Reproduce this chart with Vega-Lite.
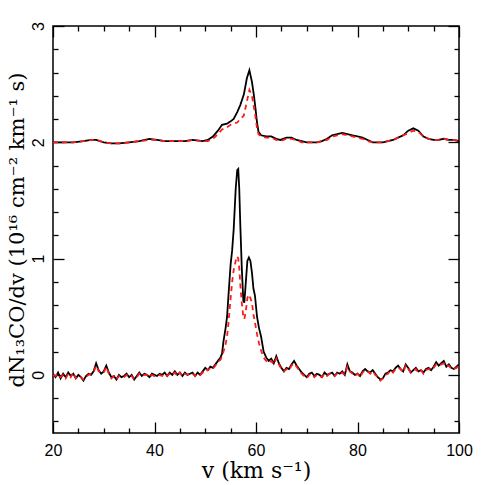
{
  "$schema": "https://vega.github.io/schema/vega-lite/v6.json",
  "width": 406,
  "height": 407,
  "autosize": {"type": "none"},
  "padding": {"left": 53, "top": 26, "right": 26, "bottom": 52},
  "background": "white",
  "config": {
    "view": {"stroke": "black", "strokeWidth": 1.5},
    "axis": {"domain": false, "grid": false, "tickColor": "black", "tickWidth": 1.3, "labelColor": "black", "titleColor": "black", "labelFont": "Liberation Sans", "titleFont": "DejaVu Serif", "titleFontWeight": "normal"}
  },
  "datasets": {
    "spec": [
      {"v":20,"g":"lo","obs":0.01,"mod":0.00},{"v":20.5,"g":"lo","obs":-0.02,"mod":-0.01},{"v":21,"g":"lo","obs":0.02,"mod":0.01},{"v":21.5,"g":"lo","obs":-0.03,"mod":-0.02},{"v":22,"g":"lo","obs":0.01,"mod":0.00},{"v":22.5,"g":"lo","obs":-0.02,"mod":-0.03},{"v":23,"g":"lo","obs":0.02,"mod":0.01},{"v":23.5,"g":"lo","obs":-0.01,"mod":-0.02},{"v":24,"g":"lo","obs":0.01,"mod":0.02},{"v":24.5,"g":"lo","obs":-0.03,"mod":-0.03},
      {"v":25,"g":"lo","obs":0.00,"mod":-0.01},{"v":25.5,"g":"lo","obs":-0.02,"mod":-0.02},{"v":26,"g":"lo","obs":-0.05,"mod":-0.04},{"v":26.5,"g":"lo","obs":-0.01,"mod":-0.02},{"v":27,"g":"lo","obs":0.01,"mod":0.00},{"v":27.5,"g":"lo","obs":0.00,"mod":0.01},{"v":28,"g":"lo","obs":0.03,"mod":0.02},{"v":28.5,"g":"lo","obs":0.10,"mod":0.08},{"v":29,"g":"lo","obs":0.04,"mod":0.03},{"v":29.5,"g":"lo","obs":0.01,"mod":0.02},
      {"v":30,"g":"lo","obs":0.03,"mod":0.02},{"v":30.5,"g":"lo","obs":0.08,"mod":0.07},{"v":31,"g":"lo","obs":0.02,"mod":0.01},{"v":31.5,"g":"lo","obs":-0.02,"mod":-0.03},{"v":32,"g":"lo","obs":-0.01,"mod":-0.01},{"v":32.5,"g":"lo","obs":-0.04,"mod":-0.04},{"v":33,"g":"lo","obs":0.00,"mod":-0.01},{"v":33.5,"g":"lo","obs":-0.02,"mod":-0.02},{"v":34,"g":"lo","obs":-0.01,"mod":-0.02},{"v":34.5,"g":"lo","obs":0.01,"mod":0.00},
      {"v":35,"g":"lo","obs":-0.02,"mod":-0.02},{"v":35.5,"g":"lo","obs":0.00,"mod":-0.01},{"v":36,"g":"lo","obs":-0.04,"mod":-0.04},{"v":36.5,"g":"lo","obs":-0.01,"mod":-0.02},{"v":37,"g":"lo","obs":0.02,"mod":0.01},{"v":37.5,"g":"lo","obs":-0.01,"mod":-0.01},{"v":38,"g":"lo","obs":0.01,"mod":0.00},{"v":38.5,"g":"lo","obs":0.00,"mod":0.00},{"v":39,"g":"lo","obs":-0.02,"mod":-0.02},{"v":39.5,"g":"lo","obs":0.01,"mod":0.00},
      {"v":40,"g":"lo","obs":0.00,"mod":-0.01},{"v":40.5,"g":"lo","obs":-0.01,"mod":-0.01},{"v":41,"g":"lo","obs":0.01,"mod":0.00},{"v":41.5,"g":"lo","obs":0.00,"mod":-0.01},{"v":42,"g":"lo","obs":0.02,"mod":0.01},{"v":42.5,"g":"lo","obs":-0.01,"mod":-0.01},{"v":43,"g":"lo","obs":0.02,"mod":0.01},{"v":43.5,"g":"lo","obs":0.00,"mod":0.00},{"v":44,"g":"lo","obs":0.03,"mod":0.02},{"v":44.5,"g":"lo","obs":0.00,"mod":-0.01},
      {"v":45,"g":"lo","obs":0.02,"mod":0.02},{"v":45.5,"g":"lo","obs":-0.01,"mod":-0.01},{"v":46,"g":"lo","obs":0.02,"mod":0.01},{"v":46.5,"g":"lo","obs":0.00,"mod":0.00},{"v":47,"g":"lo","obs":0.01,"mod":0.01},{"v":47.5,"g":"lo","obs":0.02,"mod":0.01},{"v":48,"g":"lo","obs":-0.01,"mod":-0.01},{"v":48.5,"g":"lo","obs":0.02,"mod":0.01},{"v":49,"g":"lo","obs":0.00,"mod":0.00},{"v":49.5,"g":"lo","obs":0.03,"mod":0.02},
      {"v":50,"g":"lo","obs":0.06,"mod":0.05},{"v":50.5,"g":"lo","obs":0.04,"mod":0.04},{"v":51,"g":"lo","obs":0.07,"mod":0.06},{"v":51.5,"g":"lo","obs":0.06,"mod":0.05},{"v":52,"g":"lo","obs":0.09,"mod":0.08},{"v":52.5,"g":"lo","obs":0.12,"mod":0.11},{"v":53,"g":"lo","obs":0.15,"mod":0.13},{"v":53.3,"g":"lo","obs":0.18,"mod":0.16},{"v":53.6,"g":"lo","obs":0.29,"mod":0.20},{"v":54,"g":"lo","obs":0.40,"mod":0.26},
      {"v":54.3,"g":"lo","obs":0.50,"mod":0.33},{"v":54.6,"g":"lo","obs":0.70,"mod":0.46},{"v":55,"g":"lo","obs":0.95,"mod":0.66},{"v":55.3,"g":"lo","obs":1.07,"mod":0.80},{"v":55.6,"g":"lo","obs":1.25,"mod":0.90},{"v":56,"g":"lo","obs":1.60,"mod":0.98},{"v":56.3,"g":"lo","obs":1.76,"mod":1.02},{"v":56.5,"g":"lo","obs":1.77,"mod":1.00},{"v":56.7,"g":"lo","obs":1.60,"mod":0.92},{"v":56.9,"g":"lo","obs":1.30,"mod":0.78},
      {"v":57.2,"g":"lo","obs":0.92,"mod":0.62},{"v":57.5,"g":"lo","obs":0.64,"mod":0.50},{"v":57.7,"g":"lo","obs":0.62,"mod":0.48},{"v":58,"g":"lo","obs":0.80,"mod":0.55},{"v":58.3,"g":"lo","obs":0.98,"mod":0.66},{"v":58.6,"g":"lo","obs":1.01,"mod":0.69},{"v":58.9,"g":"lo","obs":0.98,"mod":0.66},{"v":59.2,"g":"lo","obs":0.88,"mod":0.62},{"v":59.5,"g":"lo","obs":0.74,"mod":0.52},{"v":59.8,"g":"lo","obs":0.68,"mod":0.45},
      {"v":60.2,"g":"lo","obs":0.50,"mod":0.35},{"v":60.6,"g":"lo","obs":0.40,"mod":0.27},{"v":61,"g":"lo","obs":0.33,"mod":0.21},{"v":61.5,"g":"lo","obs":0.20,"mod":0.15},{"v":62,"g":"lo","obs":0.15,"mod":0.12},{"v":62.5,"g":"lo","obs":0.12,"mod":0.10},{"v":63,"g":"lo","obs":0.14,"mod":0.12},{"v":63.5,"g":"lo","obs":0.10,"mod":0.09},{"v":64,"g":"lo","obs":0.16,"mod":0.14},{"v":64.5,"g":"lo","obs":0.10,"mod":0.09},
      {"v":65,"g":"lo","obs":0.06,"mod":0.05},{"v":65.5,"g":"lo","obs":0.03,"mod":0.03},{"v":66,"g":"lo","obs":0.06,"mod":0.05},{"v":66.5,"g":"lo","obs":0.05,"mod":0.04},{"v":67,"g":"lo","obs":0.09,"mod":0.08},{"v":67.5,"g":"lo","obs":0.12,"mod":0.10},{"v":68,"g":"lo","obs":0.08,"mod":0.07},{"v":68.5,"g":"lo","obs":0.05,"mod":0.04},{"v":69,"g":"lo","obs":0.02,"mod":0.01},{"v":69.5,"g":"lo","obs":0.00,"mod":-0.01},
      {"v":70,"g":"lo","obs":-0.02,"mod":-0.03},{"v":70.5,"g":"lo","obs":0.01,"mod":0.00},{"v":71,"g":"lo","obs":0.02,"mod":0.01},{"v":71.5,"g":"lo","obs":-0.01,"mod":-0.02},{"v":72,"g":"lo","obs":0.01,"mod":0.00},{"v":72.5,"g":"lo","obs":0.00,"mod":-0.01},{"v":73,"g":"lo","obs":-0.02,"mod":-0.02},{"v":73.5,"g":"lo","obs":0.02,"mod":0.01},{"v":74,"g":"lo","obs":0.00,"mod":-0.01},{"v":74.5,"g":"lo","obs":0.01,"mod":0.01},
      {"v":75,"g":"lo","obs":0.02,"mod":0.01},{"v":75.5,"g":"lo","obs":-0.01,"mod":-0.01},{"v":76,"g":"lo","obs":0.02,"mod":0.01},{"v":76.5,"g":"lo","obs":0.01,"mod":0.00},{"v":77,"g":"lo","obs":0.03,"mod":0.02},{"v":77.5,"g":"lo","obs":0.00,"mod":0.00},{"v":78,"g":"lo","obs":0.09,"mod":0.07},{"v":78.5,"g":"lo","obs":0.03,"mod":0.03},{"v":79,"g":"lo","obs":0.02,"mod":0.01},{"v":79.5,"g":"lo","obs":0.00,"mod":-0.01},
      {"v":80,"g":"lo","obs":0.01,"mod":0.01},{"v":80.5,"g":"lo","obs":-0.01,"mod":-0.02},{"v":81,"g":"lo","obs":0.03,"mod":0.02},{"v":81.5,"g":"lo","obs":0.05,"mod":0.04},{"v":82,"g":"lo","obs":0.03,"mod":0.03},{"v":82.5,"g":"lo","obs":0.02,"mod":0.01},{"v":83,"g":"lo","obs":0.04,"mod":0.03},{"v":83.5,"g":"lo","obs":0.01,"mod":0.00},{"v":84,"g":"lo","obs":-0.02,"mod":-0.02},{"v":84.5,"g":"lo","obs":-0.04,"mod":-0.05},
      {"v":85,"g":"lo","obs":-0.03,"mod":-0.03},{"v":85.5,"g":"lo","obs":0.01,"mod":0.00},{"v":86,"g":"lo","obs":0.02,"mod":0.01},{"v":86.5,"g":"lo","obs":0.04,"mod":0.04},{"v":87,"g":"lo","obs":0.03,"mod":0.02},{"v":87.5,"g":"lo","obs":0.06,"mod":0.05},{"v":88,"g":"lo","obs":0.08,"mod":0.06},{"v":88.5,"g":"lo","obs":0.05,"mod":0.05},{"v":89,"g":"lo","obs":0.03,"mod":0.02},{"v":89.5,"g":"lo","obs":0.09,"mod":0.08},
      {"v":90,"g":"lo","obs":0.06,"mod":0.05},{"v":90.5,"g":"lo","obs":0.02,"mod":0.02},{"v":91,"g":"lo","obs":0.04,"mod":0.03},{"v":91.5,"g":"lo","obs":0.06,"mod":0.05},{"v":92,"g":"lo","obs":0.03,"mod":0.02},{"v":92.5,"g":"lo","obs":0.04,"mod":0.04},{"v":93,"g":"lo","obs":0.02,"mod":0.01},{"v":93.5,"g":"lo","obs":0.05,"mod":0.04},{"v":94,"g":"lo","obs":0.06,"mod":0.05},{"v":94.5,"g":"lo","obs":0.04,"mod":0.04},
      {"v":95,"g":"lo","obs":0.07,"mod":0.06},{"v":95.5,"g":"lo","obs":0.11,"mod":0.09},{"v":96,"g":"lo","obs":0.08,"mod":0.08},{"v":96.5,"g":"lo","obs":0.10,"mod":0.09},{"v":97,"g":"lo","obs":0.12,"mod":0.10},{"v":97.5,"g":"lo","obs":0.07,"mod":0.07},{"v":98,"g":"lo","obs":0.09,"mod":0.08},{"v":98.5,"g":"lo","obs":0.06,"mod":0.05},{"v":99,"g":"lo","obs":0.05,"mod":0.05},{"v":99.5,"g":"lo","obs":0.07,"mod":0.06},{"v":100,"g":"lo","obs":0.09,"mod":0.08},
      {"v":20,"g":"up","obs":2.00,"mod":2.00},{"v":22,"g":"up","obs":2.00,"mod":2.00},{"v":24,"g":"up","obs":2.00,"mod":2.00},{"v":26,"g":"up","obs":2.01,"mod":2.01},{"v":27.5,"g":"up","obs":2.02,"mod":2.02},{"v":28.5,"g":"up","obs":2.02,"mod":2.02},{"v":30,"g":"up","obs":2.00,"mod":2.00},{"v":31.5,"g":"up","obs":1.99,"mod":1.99},{"v":33,"g":"up","obs":1.99,"mod":1.99},{"v":35,"g":"up","obs":2.00,"mod":2.00},
      {"v":37,"g":"up","obs":2.01,"mod":2.01},{"v":39,"g":"up","obs":2.03,"mod":2.02},{"v":40.5,"g":"up","obs":2.02,"mod":2.02},{"v":42,"g":"up","obs":2.01,"mod":2.01},{"v":44,"g":"up","obs":2.01,"mod":2.01},{"v":46,"g":"up","obs":2.01,"mod":2.01},{"v":47.5,"g":"up","obs":2.02,"mod":2.02},{"v":49.5,"g":"up","obs":2.01,"mod":2.01},{"v":50.5,"g":"up","obs":2.02,"mod":2.01},{"v":51.5,"g":"up","obs":2.05,"mod":2.03},
      {"v":52.5,"g":"up","obs":2.10,"mod":2.07},{"v":53.3,"g":"up","obs":2.15,"mod":2.11},{"v":54.3,"g":"up","obs":2.16,"mod":2.13},{"v":55,"g":"up","obs":2.18,"mod":2.15},{"v":55.6,"g":"up","obs":2.20,"mod":2.16},{"v":56.3,"g":"up","obs":2.26,"mod":2.17},{"v":56.9,"g":"up","obs":2.32,"mod":2.20},{"v":57.6,"g":"up","obs":2.41,"mod":2.23},{"v":58.2,"g":"up","obs":2.55,"mod":2.35},{"v":58.7,"g":"up","obs":2.62,"mod":2.45},
      {"v":59.2,"g":"up","obs":2.52,"mod":2.40},{"v":59.6,"g":"up","obs":2.40,"mod":2.30},{"v":59.9,"g":"up","obs":2.29,"mod":2.22},{"v":60.2,"g":"up","obs":2.17,"mod":2.12},{"v":60.5,"g":"up","obs":2.09,"mod":2.07},{"v":61,"g":"up","obs":2.06,"mod":2.05},{"v":62,"g":"up","obs":2.05,"mod":2.04},{"v":63,"g":"up","obs":2.05,"mod":2.04},{"v":64,"g":"up","obs":2.03,"mod":2.02},{"v":64.8,"g":"up","obs":2.02,"mod":2.01},
      {"v":66,"g":"up","obs":2.04,"mod":2.03},{"v":67,"g":"up","obs":2.04,"mod":2.03},{"v":68,"g":"up","obs":2.02,"mod":2.02},{"v":69,"g":"up","obs":2.01,"mod":2.00},{"v":70,"g":"up","obs":2.00,"mod":2.00},{"v":71,"g":"up","obs":2.00,"mod":2.00},{"v":72,"g":"up","obs":2.00,"mod":2.00},{"v":73,"g":"up","obs":2.01,"mod":2.01},{"v":74,"g":"up","obs":2.03,"mod":2.02},{"v":75,"g":"up","obs":2.06,"mod":2.05},
      {"v":76,"g":"up","obs":2.07,"mod":2.06},{"v":77,"g":"up","obs":2.08,"mod":2.07},{"v":78,"g":"up","obs":2.07,"mod":2.06},{"v":79,"g":"up","obs":2.06,"mod":2.05},{"v":80,"g":"up","obs":2.05,"mod":2.04},{"v":81,"g":"up","obs":2.04,"mod":2.03},{"v":82,"g":"up","obs":2.02,"mod":2.01},{"v":83,"g":"up","obs":2.00,"mod":2.00},{"v":84,"g":"up","obs":2.00,"mod":2.00},{"v":85,"g":"up","obs":2.00,"mod":2.00},
      {"v":86,"g":"up","obs":2.01,"mod":2.01},{"v":87,"g":"up","obs":2.02,"mod":2.02},{"v":88,"g":"up","obs":2.04,"mod":2.04},{"v":89,"g":"up","obs":2.06,"mod":2.06},{"v":90,"g":"up","obs":2.10,"mod":2.08},{"v":91,"g":"up","obs":2.12,"mod":2.10},{"v":92,"g":"up","obs":2.10,"mod":2.09},{"v":93,"g":"up","obs":2.05,"mod":2.05},{"v":94,"g":"up","obs":2.03,"mod":2.03},{"v":95,"g":"up","obs":2.02,"mod":2.02},
      {"v":96,"g":"up","obs":2.02,"mod":2.02},{"v":97,"g":"up","obs":2.03,"mod":2.03},{"v":98,"g":"up","obs":2.02,"mod":2.02},{"v":99,"g":"up","obs":2.02,"mod":2.02},{"v":100,"g":"up","obs":2.01,"mod":2.01}
    ]
  },
  "data": {"name": "spec"},
  "resolve": {"axis": {"x": "independent", "y": "independent"}},
  "layer": [
    {
      "mark": {"type": "line", "color": "black", "strokeWidth": 1.8, "clip": true},
      "encoding": {
        "x": {"field": "v", "type": "quantitative", "scale": {"domain": [20, 100], "nice": false, "zero": false},
          "axis": {"orient": "bottom", "values": [20, 40, 60, 80, 100], "tickSize": -11, "labelPadding": 20, "labelFontSize": 16, "labelFlush": false, "title": "v (km s⁻¹)", "titleFontSize": 22, "titlePadding": 2}},
        "y": {"field": "obs", "type": "quantitative", "scale": {"domain": [-0.5, 3], "nice": false, "zero": false},
          "axis": {"orient": "left", "values": [0, 1, 2, 3], "tickSize": -11, "labelAngle": -90, "labelAlign": "center", "labelBaseline": "bottom", "labelPadding": 18, "labelFontSize": 16, "title": "dN₁₃CO/dv (10¹⁶ cm⁻² km⁻¹ s)", "titleFontSize": 21, "titlePadding": 3}},
        "detail": {"field": "g"}
      }
    },
    {
      "mark": {"type": "line", "color": "#ff1a1a", "strokeWidth": 1.8, "strokeDash": [5, 4], "clip": true},
      "encoding": {
        "x": {"field": "v", "type": "quantitative",
          "axis": {"orient": "bottom", "values": [25, 30, 35, 45, 50, 55, 65, 70, 75, 85, 90, 95], "tickSize": -5, "labels": false, "title": null}},
        "y": {"field": "mod", "type": "quantitative",
          "axis": {"orient": "left", "values": [-0.4, -0.2, 0.2, 0.4, 0.6, 0.8, 1.2, 1.4, 1.6, 1.8, 2.2, 2.4, 2.6, 2.8], "tickSize": -5, "labels": false, "title": null}},
        "detail": {"field": "g"}
      }
    },
    {
      "mark": {"type": "line", "opacity": 0},
      "encoding": {
        "x": {"field": "v", "type": "quantitative",
          "axis": {"orient": "top", "values": [20, 40, 60, 80, 100], "tickSize": -11, "labels": false, "title": null}},
        "y": {"field": "obs", "type": "quantitative",
          "axis": {"orient": "right", "values": [0, 1, 2, 3], "tickSize": -11, "labels": false, "title": null}},
        "detail": {"field": "g"}
      }
    },
    {
      "mark": {"type": "line", "opacity": 0},
      "encoding": {
        "x": {"field": "v", "type": "quantitative",
          "axis": {"orient": "top", "values": [25, 30, 35, 45, 50, 55, 65, 70, 75, 85, 90, 95], "tickSize": -5, "labels": false, "title": null}},
        "y": {"field": "obs", "type": "quantitative",
          "axis": {"orient": "right", "values": [-0.4, -0.2, 0.2, 0.4, 0.6, 0.8, 1.2, 1.4, 1.6, 1.8, 2.2, 2.4, 2.6, 2.8], "tickSize": -5, "labels": false, "title": null}},
        "detail": {"field": "g"}
      }
    }
  ]
}
